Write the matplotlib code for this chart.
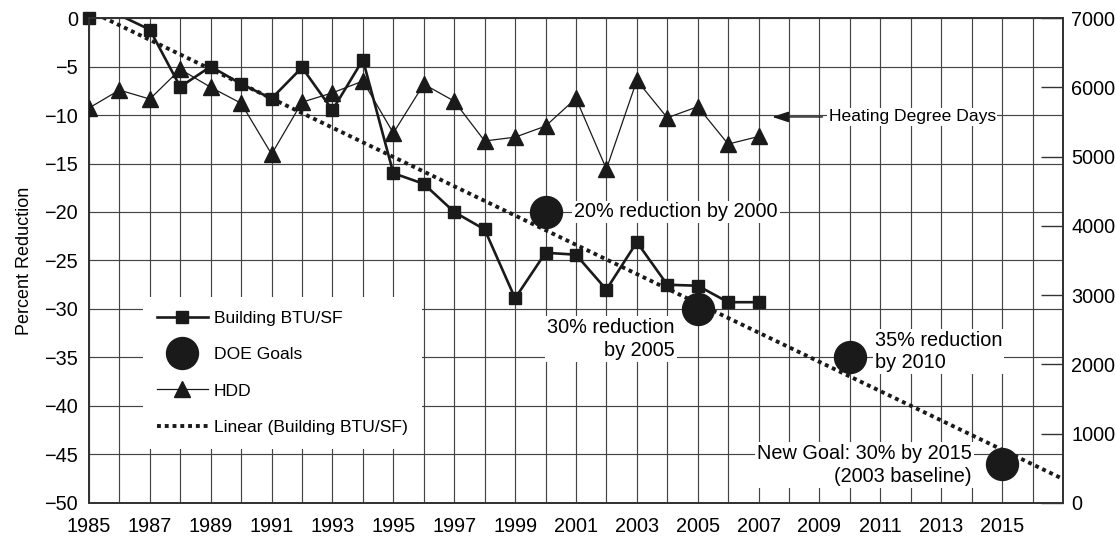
import matplotlib
matplotlib.use("Agg")
import matplotlib.pyplot as plt
import numpy as np
from matplotlib.lines import Line2D

plt.rcParams['font.family'] = ['Liberation Sans', 'DejaVu Sans']

# data
years = list(range(1985, 2008))
btu_pct = [0.0, 0.3, -1.2, -7.1, -5.0, -6.8, -8.3, -5.1, -9.5, -4.3, -16.0, -17.1,
           -20.0, -21.8, -28.9, -24.2, -24.4, -28.0, -23.1, -27.5, -27.6, -29.3, -29.3]
hdd = [5700, 5960, 5830, 6260, 6000, 5770, 5035, 5785, 5920, 6090, 5340, 6045,
       5800, 5225, 5280, 5440, 5840, 4820, 6100, 5560, 5720, 5180, 5290]
goal_years = [2000, 2005, 2010, 2015]
goal_pct = [-20, -30, -35, -46]
goal_labels = ["20% reduction by 2000", "30% reduction\nby 2005",
               "35% reduction\nby 2010", "New Goal: 30% by 2015\n(2003 baseline)"]
trend_years = [1985, 2017]

INK = "#1a1a1a"
GRID = "#444444"
TICK_FS = 14.3
NOTE_FS = 14.3

fig = plt.figure(figsize=(11.16, 5.39), dpi=100)
ax = fig.add_axes([0.0797, 0.0668, 0.8728, 0.8998])

ax.set_xlim(1985, 2017)
ax.set_ylim(-50, 0)
ax.set_xticks(range(1985, 2016, 2))
ax.set_xticks(range(1985, 2018), minor=True)
ax.set_yticks(range(-50, 1, 5))
ax.grid(True, which="both", axis="x", color=GRID, linewidth=0.85)
ax.grid(True, which="major", axis="y", color=GRID, linewidth=0.85)
ax.set_axisbelow(True)
ax.tick_params(axis="x", which="both", length=0, labelsize=TICK_FS, pad=10)
ax.tick_params(axis="y", length=0, labelsize=TICK_FS, pad=8)
for s in ax.spines.values():
    s.set_color("#333333")
    s.set_linewidth(1.3)

# linear trend of the building series (Excel style trendline)
slope, icpt = np.polyfit(years, btu_pct, 1)
tx = np.array(trend_years)
ax.plot(tx, slope * tx + icpt, color=INK, linewidth=2.8, linestyle=(0, (1, 1)),
        dash_capstyle="butt", zorder=4)

# building BTU/SF, markers only for points inside the plot range
shown = [i for i, v in enumerate(btu_pct) if v <= 0]
ax.plot(years, btu_pct, color=INK, linewidth=1.9, zorder=5)
ax.plot([years[i] for i in shown], [btu_pct[i] for i in shown], linestyle="none",
        marker="s", markersize=8, color=INK, clip_on=False, zorder=6)

ax.plot(goal_years, goal_pct, linestyle="none", marker="o", markersize=23,
        color=INK, zorder=6)

box = dict(facecolor="white", edgecolor="none", pad=1.5)
ax.text(2000.95, -20, goal_labels[0], fontsize=NOTE_FS, ha="left", va="center", bbox=box, zorder=3)
ax.text(2004.25, -33.1, goal_labels[1], fontsize=NOTE_FS, ha="right", va="center",
        multialignment="right", bbox=box, zorder=3, linespacing=1.25)
ax.text(2010.82, -34.4, goal_labels[2], fontsize=NOTE_FS, ha="left", va="center",
        multialignment="left", bbox=box, zorder=3, linespacing=1.2)
ax.text(2014.0, -46.1, goal_labels[3], fontsize=NOTE_FS, ha="right", va="center",
        multialignment="right", bbox=box, zorder=3, linespacing=1.25)

ax.text(2009.3, -10.2, "Heating Degree Days", fontsize=12.6, ha="left", va="center",
        bbox=dict(facecolor="white", edgecolor="none", pad=1), zorder=3)
ax.annotate("", xy=(2007.45, -10.2), xytext=(2009.1, -10.2),
            arrowprops=dict(arrowstyle="-|>,head_length=1.0,head_width=0.33",
                            color=INK, linewidth=1.0, shrinkA=0, shrinkB=0), zorder=3)

ax.set_ylabel("Percent Reduction", fontsize=13, labelpad=8)

# HDD on the right axis
ax2 = ax.twinx()
ax2.set_ylim(0, 7000)
ax2.set_yticks(range(0, 7001, 1000))
ax2.tick_params(axis="y", direction="in", length=16, width=1.0, color="#333333",
                labelsize=TICK_FS, pad=6)
for s in ax2.spines.values():
    s.set_color("#333333")
    s.set_linewidth(1.3)
ax2.plot(years, hdd, color=INK, linewidth=0.9, marker="^", markersize=12, zorder=5)

handles = [
    Line2D([], [], color=INK, linewidth=1.9, marker="s", markersize=8),
    Line2D([], [], color=INK, linestyle="none", marker="o", markersize=23),
    Line2D([], [], color=INK, linewidth=0.9, marker="^", markersize=12),
    Line2D([], [], color=INK, linewidth=2.8, linestyle=(0, (1, 1)), dash_capstyle="butt"),
]
labels = ["Building BTU/SF", "DOE Goals", "HDD", "Linear (Building BTU/SF)"]
leg = ax2.legend(handles, labels, loc="upper left", bbox_to_anchor=(0.0555, 0.425),
                 fontsize=12.6, frameon=True, facecolor="white", edgecolor="none",
                 framealpha=1, fancybox=False, borderaxespad=0, borderpad=0.8,
                 handlelength=2.9, handletextpad=0.35, labelspacing=1.2)

fig.savefig("out.png", dpi=100)
